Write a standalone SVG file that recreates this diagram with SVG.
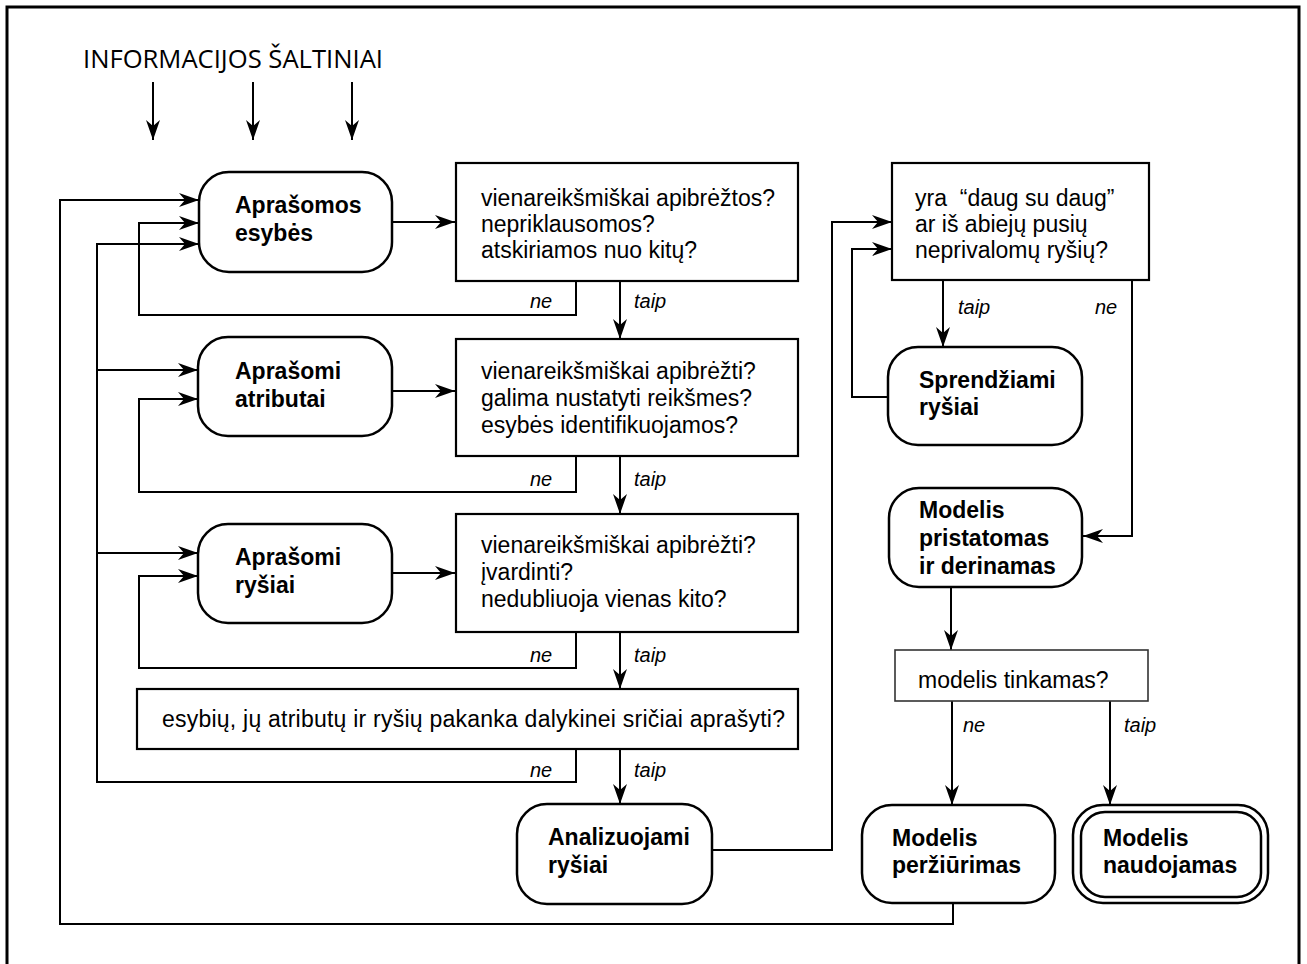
<svg xmlns="http://www.w3.org/2000/svg" width="1307" height="964" viewBox="0 0 1307 964">
  <style>
    .frame { fill: none; stroke: #000; stroke-width: 3; }
    .node { fill: #fff; stroke: #000; stroke-width: 2.5; }
    .box { fill: #fff; stroke: #000; stroke-width: 2.2; }
    .thin { fill: #fff; stroke: #333; stroke-width: 1.6; }
    .wire { fill: none; stroke: #000; stroke-width: 2; }
    .arr { marker-end: url(#head); }
    .title { font-family: "Open Sans", "Liberation Sans", sans-serif; font-size: 26px; fill: #000; }
    .bold { font-family: "Liberation Sans", Arial, sans-serif; font-size: 23px; font-weight: bold; fill: #000; }
    .q { font-family: "Liberation Sans", Arial, sans-serif; font-size: 23px; fill: #000; }
    .lbl { font-family: "Liberation Sans", Arial, sans-serif; font-size: 20px; font-style: italic; fill: #000; }
  </style>
  <defs>
    <marker id="head" markerUnits="userSpaceOnUse" markerWidth="24" markerHeight="16" viewBox="-21 -8 22 16" refX="0" refY="0" orient="auto">
      <path d="M0,0 L-20,-7 L-14,0 L-20,7 Z" fill="#000"/>
    </marker>
  </defs>

  <rect width="1307" height="964" fill="#fff"/>
  <path class="frame" d="M7,964 V7 H1299 V964"/>

  <text class="title" x="83" y="68" textLength="300" lengthAdjust="spacingAndGlyphs">INFORMACIJOS ŠALTINIAI</text>

  <g id="connectors">
    <!-- sources -->
    <path class="wire arr" d="M153,82 V140"/>
    <path class="wire arr" d="M253,82 V140"/>
    <path class="wire arr" d="M352,82 V140"/>
    <!-- entities -->
    <path class="wire arr" d="M392,222 H455"/>
    <path class="wire arr" d="M576,281 V315 H139 V223 H199"/>
    <path class="wire arr" d="M620,281 V339"/>
    <!-- attributes -->
    <path class="wire arr" d="M392,391 H455"/>
    <path class="wire arr" d="M576,456 V492 H139 V399 H198"/>
    <path class="wire arr" d="M620,456 V514"/>
    <!-- relations -->
    <path class="wire arr" d="M392,573 H455"/>
    <path class="wire arr" d="M576,632 V668 H139 V576 H198"/>
    <path class="wire arr" d="M620,632 V689"/>
    <!-- sufficiency check -->
    <path class="wire arr" d="M576,749 V782 H97 V244 H199"/>
    <path class="wire arr" d="M97,370 H198"/>
    <path class="wire arr" d="M97,553 H198"/>
    <path class="wire arr" d="M620,749 V804"/>
    <!-- relation analysis -->
    <path class="wire arr" d="M712,850 H832 V222 H892"/>
    <path class="wire arr" d="M888,397 H852 V249 H892"/>
    <path class="wire arr" d="M943,280 V347"/>
    <path class="wire arr" d="M1132,280 V536 H1083"/>
    <!-- presentation -->
    <path class="wire arr" d="M951,587 V650"/>
    <path class="wire arr" d="M952,701 V805"/>
    <path class="wire arr" d="M1110,701 V805"/>
    <!-- review loop -->
    <path class="wire arr" d="M953,903 V924 H60 V200 H199"/>
  </g>

  <g id="labels">
    <text class="lbl" x="530" y="308">ne</text>
    <text class="lbl" x="634" y="308">taip</text>
    <text class="lbl" x="530" y="486">ne</text>
    <text class="lbl" x="634" y="486">taip</text>
    <text class="lbl" x="530" y="662">ne</text>
    <text class="lbl" x="634" y="662">taip</text>
    <text class="lbl" x="530" y="777">ne</text>
    <text class="lbl" x="634" y="777">taip</text>
    <text class="lbl" x="958" y="314">taip</text>
    <text class="lbl" x="1095" y="314">ne</text>
    <text class="lbl" x="963" y="732">ne</text>
    <text class="lbl" x="1124" y="732">taip</text>
  </g>

  <g id="aprasomos-esybes">
    <rect class="node" x="199" y="172" width="193" height="100" rx="30"/>
    <text class="bold" x="235" y="213">Aprašomos</text>
    <text class="bold" x="235" y="241">esybės</text>
  </g>

  <g id="q-esybes">
    <rect class="box" x="456" y="163" width="342" height="118"/>
    <text class="q" x="481" y="206">vienareikšmiškai apibrėžtos?</text>
    <text class="q" x="481" y="232">nepriklausomos?</text>
    <text class="q" x="481" y="258">atskiriamos nuo kitų?</text>
  </g>

  <g id="aprasomi-atributai">
    <rect class="node" x="198" y="337" width="194" height="99" rx="30"/>
    <text class="bold" x="235" y="379">Aprašomi</text>
    <text class="bold" x="235" y="407">atributai</text>
  </g>

  <g id="q-atributai">
    <rect class="box" x="456" y="339" width="342" height="117"/>
    <text class="q" x="481" y="379">vienareikšmiškai apibrėžti?</text>
    <text class="q" x="481" y="406">galima nustatyti reikšmes?</text>
    <text class="q" x="481" y="433">esybės identifikuojamos?</text>
  </g>

  <g id="aprasomi-rysiai">
    <rect class="node" x="198" y="524" width="194" height="99" rx="30"/>
    <text class="bold" x="235" y="565">Aprašomi</text>
    <text class="bold" x="235" y="593">ryšiai</text>
  </g>

  <g id="q-rysiai">
    <rect class="box" x="456" y="514" width="342" height="118"/>
    <text class="q" x="481" y="553">vienareikšmiškai apibrėžti?</text>
    <text class="q" x="481" y="580">įvardinti?</text>
    <text class="q" x="481" y="607">nedubliuoja vienas kito?</text>
  </g>

  <g id="q-pakanka">
    <rect class="box" x="137" y="689" width="661" height="60"/>
    <text class="q" x="162" y="727" textLength="623">esybių, jų atributų ir ryšių pakanka dalykinei sričiai aprašyti?</text>
  </g>

  <g id="analizuojami-rysiai">
    <rect class="node" x="517" y="804" width="195" height="100" rx="30"/>
    <text class="bold" x="548" y="845">Analizuojami</text>
    <text class="bold" x="548" y="873">ryšiai</text>
  </g>

  <g id="q-daug-su-daug">
    <rect class="box" x="892" y="163" width="257" height="117"/>
    <text class="q" x="915" y="206">yra&#160; “daug su daug”</text>
    <text class="q" x="915" y="232">ar iš abiejų pusių</text>
    <text class="q" x="915" y="258">neprivalomų ryšių?</text>
  </g>

  <g id="sprendziami-rysiai">
    <rect class="node" x="888" y="347" width="194" height="98" rx="30"/>
    <text class="bold" x="919" y="388">Sprendžiami</text>
    <text class="bold" x="919" y="415">ryšiai</text>
  </g>

  <g id="modelis-pristatomas">
    <rect class="node" x="889" y="488" width="193" height="99" rx="30"/>
    <text class="bold" x="919" y="518">Modelis</text>
    <text class="bold" x="919" y="546">pristatomas</text>
    <text class="bold" x="919" y="574">ir derinamas</text>
  </g>

  <g id="q-tinkamas">
    <rect class="thin" x="895" y="650" width="253" height="51"/>
    <text class="q" x="918" y="688">modelis tinkamas?</text>
  </g>

  <g id="modelis-perziurimas">
    <rect class="node" x="862" y="805" width="193" height="98" rx="30"/>
    <text class="bold" x="892" y="846">Modelis</text>
    <text class="bold" x="892" y="873">peržiūrimas</text>
  </g>

  <g id="modelis-naudojamas">
    <rect class="node" x="1073" y="805" width="195" height="98" rx="30"/>
    <rect class="node" x="1081" y="812" width="180" height="85" rx="24"/>
    <text class="bold" x="1103" y="846">Modelis</text>
    <text class="bold" x="1103" y="873">naudojamas</text>
  </g>
</svg>
